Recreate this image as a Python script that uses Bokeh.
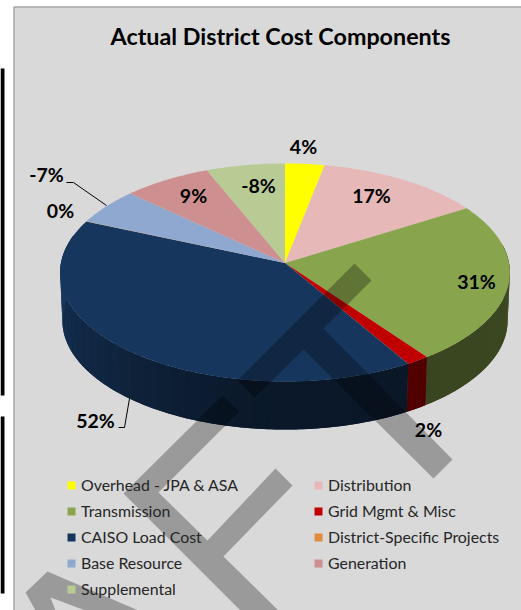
import numpy as np
from bokeh.core.properties import value
from bokeh.embed import file_html
from bokeh.models import ColumnDataSource, Legend, LegendItem, Range1d
from bokeh.plotting import figure
from bokeh.resources import INLINE

categories = ["Overhead - JPA & ASA", "Distribution", "Transmission", "Grid Mgmt & Misc",
              "CAISO Load Cost", "District-Specific Projects", "Base Resource", "Generation", "Supplemental"]
shown_percent = [4, 17, 31, 2, 52, 0, -7, 9, -8]
slice_size = [4, 17, 31, 2, 52, 0.08, 7, 9, 8]
colors = ["#ffff00", "#e6b8b7", "#88a44c", "#c00000", "#17365d", "#e08a3c", "#8fa8cf", "#cd8f8f", "#b8cb94"]
title = "Actual District Cost Components"

# layout: data space is the 521x610 picture, in pixels
W, H = 521, 610
CX, CY, A, B, K, DEPTH = 284.5, 262.5, 224.0, 108.2, 0.0874, 48.0
LABEL_XY = [(303, 146), (371, 195), (476, 281), (428, 429), (95, 420), (60, 210), (46, 174), (193, 195), (258, 185)]
TEXT_FONT = value("Lato")

WATERMARK = [
    [(354, 263), (371, 280), (323, 328), (452, 459), (433, 478), (303, 349), (254, 397), (237, 380)],
    [(222, 395), (239, 411), (158, 492), (207, 540), (275, 468), (292, 485), (223, 556), (278, 610), (240, 610), (123, 493)],
    [(25, 592), (47, 571), (138, 610), (85, 610), (50, 597), (55, 610), (35, 610)],
]

def project(theta_deg, scale=1.0, drop=0.0):
    t = np.radians(theta_deg)
    u, v = np.sin(t), np.cos(t)
    d = 1 + K * v
    return CX + scale * A * u / d, CY - B * v / d + drop

p = figure(width=W, height=H, output_backend="svg", toolbar_location=None,
           x_range=Range1d(0, W), y_range=Range1d(H, 0), min_border=0,
           outline_line_color=None, background_fill_color="#ffffff", border_fill_color="#ffffff")
p.axis.visible = False
p.grid.visible = False

# panel and clipped side marks
p.quad(left=[13.5], right=[530], top=[6.5], bottom=[620], fill_color="#d9d9d9", line_color="#a6a6a6", line_width=1.5)
p.quad(left=[0, 0], right=[4, 4], top=[68, 416], bottom=[395, 593], fill_color="#000000", line_color=None)

edges = np.concatenate([[0], np.cumsum(slice_size)]) / np.sum(slice_size) * 360.0

def side_shade(th):
    return np.interp(th, [90, 150, 190, 240, 275], [0.44, 0.42, 0.46, 0.74, 1.0])

def shaded(c, f):
    return "#%02x%02x%02x" % tuple(int(round(int(c[j:j + 2], 16) * f)) for j in (1, 3, 5))

def side_quad(s0, s1):
    th = np.linspace(s0, s1, max(2, int(s1 - s0) + 2))
    x0, y0 = project(th)
    x1, y1 = project(th[::-1], 0.99, DEPTH)
    return np.r_[x0, x1], np.r_[y0, y1]

# pie side: a flat underlay for each slice, then shaded bands
band_xs, band_ys, band_cs = [], [], []
for i, c in enumerate(colors):
    a0, a1 = max(edges[i], 80.0), min(edges[i + 1], 285.0)
    if a1 <= a0:
        continue
    x, y = side_quad(a0, a1)
    p.patch(x, y, fill_color=shaded(c, side_shade((a0 + a1) / 2)), line_color=None)
    pts = np.unique(np.r_[a0, np.arange(np.ceil(a0 / 4) * 4, a1, 4.0), a1])
    for s0, s1 in zip(pts[:-1], pts[1:]):
        x, y = side_quad(s0, s1)
        band_xs.append(x); band_ys.append(y); band_cs.append(shaded(c, side_shade((s0 + s1) / 2)))
p.patches(band_xs, band_ys, fill_color=band_cs, line_color=None)

# pie top face
items = []
for i, (name, c) in enumerate(zip(categories, colors)):
    th = np.linspace(edges[i], edges[i + 1], max(3, int((edges[i + 1] - edges[i]) * 1.5)))
    x, y = project(th)
    r = p.patch(np.r_[CX, x], np.r_[CY, y], fill_color=c, line_color=None)
    items.append(LegendItem(label=name, renderers=[r]))

# leader lines
p.line([66, 73, 106], [182, 182, 205], line_color="#000000", line_width=1)
p.line([118, 124, 129], [427, 427, 398], line_color="#000000", line_width=1)

# data labels
src = ColumnDataSource(dict(x=[q[0] for q in LABEL_XY], y=[q[1] for q in LABEL_XY],
                            t=["%d%%" % v for v in shown_percent]))
p.text("x", "y", text="t", source=src, text_font=TEXT_FONT, text_font_style="bold", text_font_size="19.5px",
       text_align="center", text_baseline="middle", text_color="#000000")

p.text([280], [35], text=[title], text_font=TEXT_FONT, text_font_style="bold", text_font_size="23.3px",
       text_align="center", text_baseline="middle", text_color="#000000")

legend = Legend(items=items, ncols=2, orientation="horizontal", location=(66, 12),
                background_fill_alpha=0, border_line_color=None,
                label_text_font="Lato", label_text_font_size="15.9px", label_text_color="#262626",
                glyph_width=10, glyph_height=10, spacing=7, label_standoff=5, label_height=10,
                label_width=225, margin=0, padding=0, level="guide")
p.add_layout(legend, "center")

# watermark above everything
for poly in WATERMARK:
    p.patch([q[0] for q in poly], [q[1] for q in poly], fill_color="#000000", fill_alpha=0.29,
            line_color=None, level="overlay")

open("out.html", "w").write(file_html(p, INLINE))
